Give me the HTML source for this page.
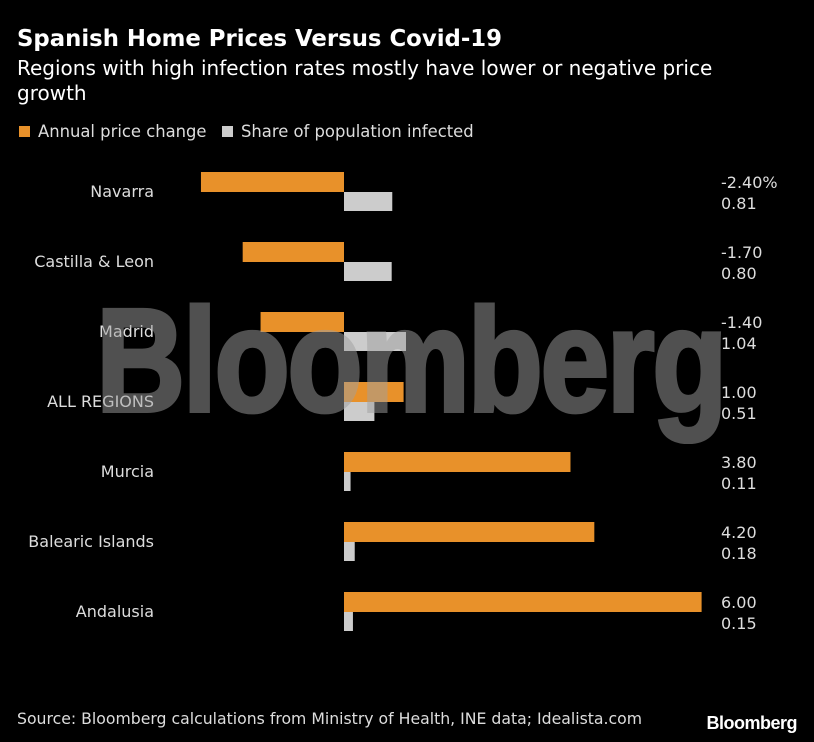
<!DOCTYPE html>
<html><head><meta charset="utf-8"><style>
body{margin:0;background:#000;width:814px;height:742px;overflow:hidden;font-family:"DejaVu Sans",sans-serif;color:#fff;position:relative}
.t{position:absolute;white-space:nowrap}
</style></head><body>
<div class="t" style="left:17px;top:26px;font-size:22.8px;font-weight:bold">Spanish Home Prices Versus Covid-19</div>
<div class="t" style="left:17px;top:56px;font-size:20px;line-height:25px;white-space:normal;width:760px">Regions with high infection rates mostly have lower or negative price growth</div>
<div class="t" style="left:19px;top:122px;font-size:16.4px;color:#ddd"><span style="display:inline-block;width:11px;height:11px;background:#e8912a;margin-right:8px"></span>Annual price change</div>
<div class="t" style="left:222px;top:122px;font-size:16.4px;color:#ddd"><span style="display:inline-block;width:11px;height:11px;background:#ccc;margin-right:8px"></span>Share of population infected</div>
<svg id="chart" width="814" height="742" style="position:absolute;left:0;top:0"></svg>
<div class="t" style="left:96px;top:288px;font-family:'Liberation Sans',sans-serif;font-size:147px;line-height:147px;font-weight:bold;color:#a0a0a0;-webkit-text-stroke:4px #a0a0a0;opacity:0.5;letter-spacing:-3px;transform:scaleX(0.84);transform-origin:0 0">Bloomberg</div>
<div class="t" style="left:17px;top:709px;font-size:15.7px;color:#ddd">Source: Bloomberg calculations from Ministry of Health, INE data; Idealista.com</div>
<div class="t" style="right:17px;top:713px;font-family:'Liberation Sans',sans-serif;font-size:18px;font-weight:bold;letter-spacing:-0.5px">Bloomberg</div>
<script>
const categories=["Navarra","Castilla & Leon","Madrid","ALL REGIONS","Murcia","Balearic Islands","Andalusia"];
const priceChange=[-2.40,-1.70,-1.40,1.00,3.80,4.20,6.00];
const infected=[0.81,0.80,1.04,0.51,0.11,0.18,0.15];
const priceLabels=["-2.40%","-1.70","-1.40","1.00","3.80","4.20","6.00"];
const infectedLabels=["0.81","0.80","1.04","0.51","0.11","0.18","0.15"];
const svg=document.getElementById('chart');
const NS='http://www.w3.org/2000/svg';
const x=v=>344+v*59.6;
const rowY=i=>172+i*70;
function mk(tag,a){const e=document.createElementNS(NS,tag);for(const k in a)e.setAttribute(k,a[k]);svg.appendChild(e);return e;}
categories.forEach((c,i)=>{
  const y=rowY(i);
  const p=priceChange[i];
  const b1=mk('rect',{x:Math.min(x(0),x(p)),y:y,width:Math.abs(x(p)-x(0)),height:20,fill:'#e8912a'});
  
  
  const b2=mk('rect',{x:x(0),y:y+20,width:x(infected[i])-x(0),height:19,fill:'#cccccc'});
  
  
  const l=mk('text',{x:154,y:y+25,'text-anchor':'end','font-size':16,fill:'#ddd','font-family':'DejaVu Sans, sans-serif'});
  l.textContent=c;
  
  
  const v1=mk('text',{x:721,y:y+16,'font-size':16,fill:'#ddd','font-family':'DejaVu Sans, sans-serif'});
  v1.textContent=priceLabels[i];
  
  
  const v2=mk('text',{x:721,y:y+37,'font-size':16,fill:'#ddd','font-family':'DejaVu Sans, sans-serif'});
  v2.textContent=infectedLabels[i];
  
  
});
</script>
</body></html>
